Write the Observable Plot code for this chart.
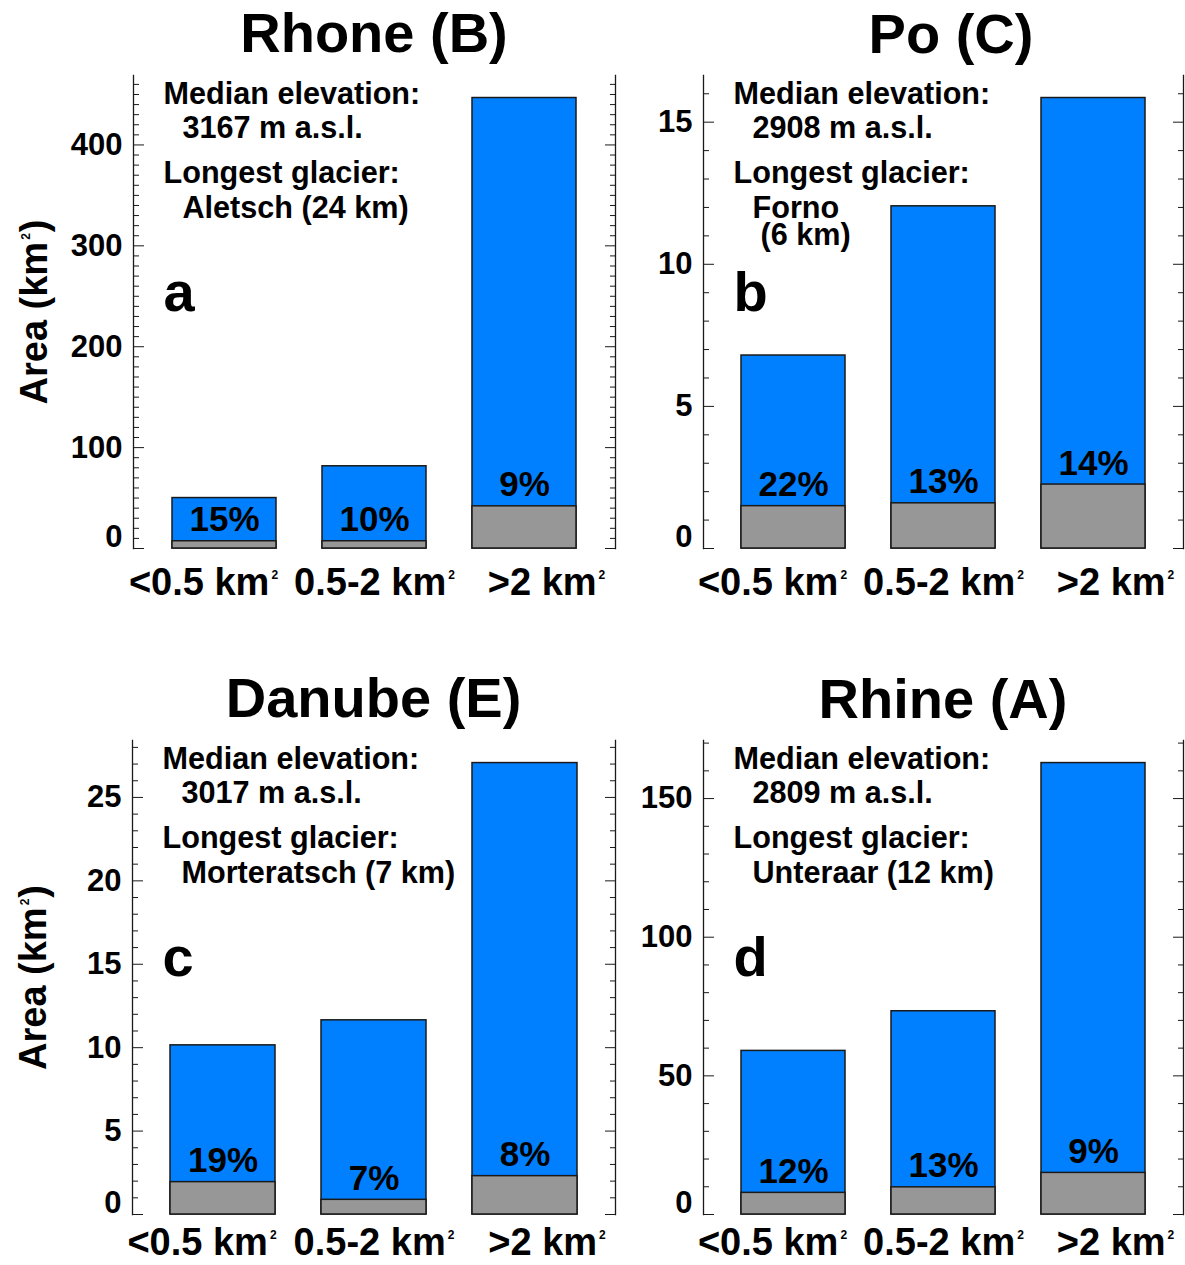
<!DOCTYPE html>
<html><head><meta charset="utf-8">
<script src="https://cdn.jsdelivr.net/npm/d3@7"></script>
<script src="https://cdn.jsdelivr.net/npm/@observablehq/plot@0.6"></script>
<style>
body{margin:0;background:#fff;}
#root{position:relative;width:1185px;height:1265px;overflow:hidden;background:#fff;font-family:"Liberation Sans",Arial,sans-serif;font-weight:bold;color:#000;}
.title{position:absolute;text-align:center;font-size:56px;line-height:56px;white-space:nowrap;font-weight:bold;}
.panel{position:absolute;}
</style></head><body><div id="root"></div>
<script>
// ---------------- data ----------------
const categories = ["<0.5 km²", "0.5-2 km²", ">2 km²"];
const riverTitles = ["Rhone (B)", "Po (C)", "Danube (E)", "Rhine (A)"];
const panelLetters = ["a", "b", "c", "d"];
const medianElevation = [3167, 2908, 3017, 2809];
const longestGlacier = [["Aletsch (24 km)"], ["Forno", "(6 km)"], ["Morteratsch (7 km)"], ["Unteraar (12 km)"]];

const rhoneArea = [50.0, 81.5, 446.5];
const rhoneGrey = [7.2, 7.2, 41.8];
const rhonePct = [15, 10, 9];

const poArea = [6.79, 12.04, 15.85];
const poGrey = [1.49, 1.59, 2.25];
const poPct = [22, 13, 14];

const danubeArea = [10.14, 11.64, 27.06];
const danubeGrey = [1.94, 0.88, 2.30];
const danubePct = [19, 7, 8];

const rhineArea = [59.0, 73.3, 162.8];
const rhineGrey = [7.8, 9.8, 15.0];
const rhinePct = [12, 13, 9];

const areas = [rhoneArea, poArea, danubeArea, rhineArea];
const greys = [rhoneGrey, poGrey, danubeGrey, rhineGrey];
const pcts = [rhonePct, poPct, danubePct, rhinePct];
const majorStep = [100, 5, 5, 50];
const minorStep = [10, 1, 1, 10];
const yLabel = "Area (km²)";

// ---------------- style ----------------
const BLUE = "#0080ff", GREY = "#979797", EDGE = "#1a1a1a";
const FONT = "'Liberation Sans', Arial, sans-serif";
const NS = "http://www.w3.org/2000/svg";
const ANN = 30.6;

const layout = [
  {left: 0,   top: 65,  width: 640, ml: 133, mr: 25, fh: 473, mb: 62, xpad: 20, titleTop: 5,   titleDx: 0, ylab: true},
  {left: 640, top: 65,  width: 545, ml: 63,  mr: 2,  fh: 473, mb: 62, xpad: 20, titleTop: 6,   titleDx: 8, ylab: false},
  {left: 0,   top: 730, width: 640, ml: 132, mr: 25, fh: 474, mb: 50, xpad: 14, titleTop: 670, titleDx: 0, ylab: true},
  {left: 640, top: 730, width: 545, ml: 63,  mr: 2,  fh: 474, mb: 50, xpad: 14, titleTop: 671, titleDx: 0, ylab: false}
];

function superscripts(svg, supSize, shift) {
  svg.querySelectorAll("text").forEach(t => {
    const targets = t.querySelector("tspan") ? [...t.querySelectorAll("tspan")] : [t];
    for (const el of targets) {
      const s = el.textContent;
      if (!s.includes("²")) continue;
      const [a, b] = s.split("²");
      const fs = parseFloat(t.getAttribute("font-size") || getComputedStyle(t).fontSize) || 36;
      el.textContent = a;
      const sup = document.createElementNS(NS, "tspan");
      sup.setAttribute("font-size", Math.round(fs * supSize));
      sup.setAttribute("dy", -fs * shift);
      sup.setAttribute("dx", 2);
      sup.textContent = "2";
      el.appendChild(sup);
      if (b) {
        const rest = document.createElementNS(NS, "tspan");
        rest.setAttribute("dy", fs * shift);
        rest.setAttribute("dx", 1);
        rest.textContent = b;
        el.appendChild(rest);
      }
    }
  });
}

const root = document.getElementById("root");

riverTitles.forEach((title, i) => {
  const L = layout[i];
  const rows = categories.map((c, j) => ({cat: c, area: areas[i][j], grey: greys[i][j], pct: pcts[i][j] + "%"}));
  const ymax = d3.max(areas[i]) * 1.05;
  const major = d3.range(0, ymax, majorStep[i]);
  const minor = d3.range(0, ymax, minorStep[i]).filter(v => v % majorStep[i] !== 0);
  const height = 10 + L.fh + L.mb;
  const fl = L.width - L.ml - L.mr;

  const annot = (text, dx, dy, size) => Plot.text([text], {
    frameAnchor: "top-left", dx, dy, text: d => d, textAnchor: "start", lineAnchor: "bottom",
    fontSize: size, fontWeight: "bold", fill: "#000"
  });
  const xlab = (cat, dx) => Plot.axisX([cat], {tickSize: 0, tickPadding: L.xpad, dx, fontSize: 38, fontWeight: "bold"});

  const marks = [
    Plot.barY(rows, {x: "cat", y1: 0, y2: "area", fill: BLUE, stroke: EDGE, strokeWidth: 1.5}),
    Plot.barY(rows, {x: "cat", y1: 0, y2: "grey", fill: GREY, stroke: EDGE, strokeWidth: 1.5}),
    Plot.text(rows, {x: "cat", y: "grey", text: "pct", dy: -10, lineAnchor: "bottom", fontSize: 35, fontWeight: "bold", fill: "#000"}),
    Plot.frame({anchor: "left", stroke: EDGE, strokeWidth: 1.3}),
    Plot.frame({anchor: "right", stroke: EDGE, strokeWidth: 1.3}),
    Plot.axisY(major, {anchor: "left", tickSize: -11, tickFormat: () => "", stroke: EDGE}),
    Plot.axisY(minor, {anchor: "left", tickSize: -6, tickFormat: () => "", stroke: EDGE}),
    Plot.axisY(major, {anchor: "right", tickSize: -11, tickFormat: () => "", stroke: EDGE}),
    Plot.axisY(minor, {anchor: "right", tickSize: -6, tickFormat: () => "", stroke: EDGE}),
    Plot.axisY(major.filter(v => v !== 0), {anchor: "left", tickSize: 0, tickPadding: 11, fontSize: 31, fontWeight: "bold"}),
    Plot.axisY([0], {anchor: "left", tickSize: 0, tickPadding: 11, dy: -11, fontSize: 31, fontWeight: "bold"}),
    xlab(categories[0], -21),
    xlab(categories[1], 0),
    xlab(categories[2], 22),
    annot("Median elevation:", 30, 28, ANN),
    annot(`${medianElevation[i]} m a.s.l.`, 49, 62, ANN),
    annot("Longest glacier:", 30, 107, ANN),
    ...longestGlacier[i].map((line, k) => annot(line, 49 + k * 8, 142 + k * 27, ANN)),
    annot(panelLetters[i], 30, 235, 56)
  ];
  if (L.ylab) {
    marks.push(Plot.text([yLabel], {frameAnchor: "left", dx: -99, rotate: -90, text: d => d,
      textAnchor: "middle", lineAnchor: "middle", fontSize: 38, fontWeight: "bold", fill: "#000"}));
  }

  const svg = Plot.plot({
    width: L.width, height,
    marginLeft: L.ml, marginRight: L.mr, marginTop: 10, marginBottom: L.mb,
    x: {domain: categories, paddingInner: 0.305, paddingOuter: 0.25, label: null},
    y: {domain: [0, ymax], label: null},
    style: {fontFamily: FONT, fontWeight: "bold", fontSize: "30px", color: "#000", background: "transparent", overflow: "visible"},
    marks
  });
  superscripts(svg, 0.33, 0.45);

  const wrap = document.createElement("div");
  wrap.className = "panel";
  wrap.style.left = L.left + "px";
  wrap.style.top = L.top + "px";
  wrap.appendChild(svg);
  root.appendChild(wrap);

  const t = document.createElement("div");
  t.className = "title";
  t.textContent = title;
  t.style.left = (L.left + L.ml + L.titleDx) + "px";
  t.style.width = fl + "px";
  t.style.top = L.titleTop + "px";
  root.appendChild(t);
});
</script></body></html>
